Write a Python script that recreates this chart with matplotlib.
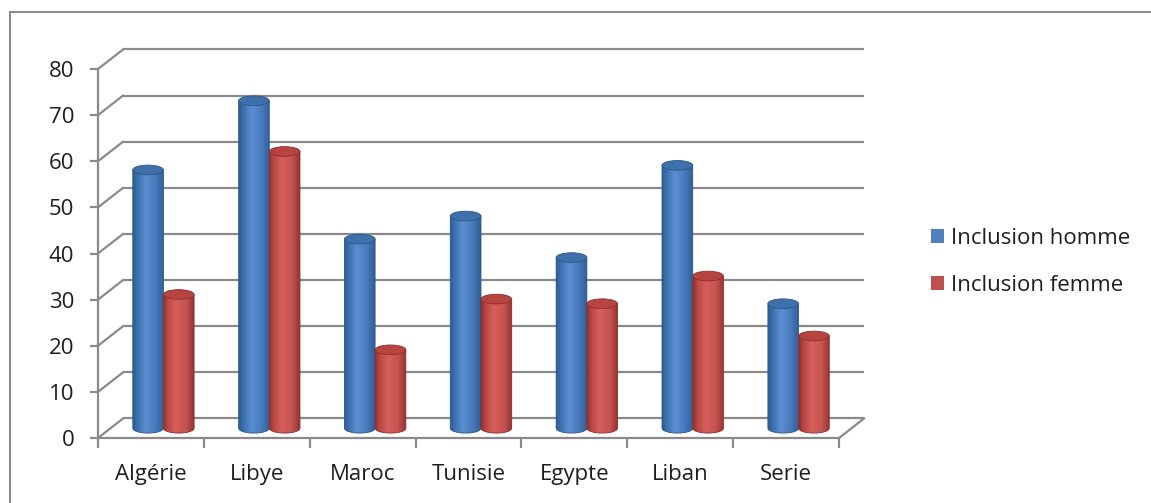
import numpy as np
import matplotlib.pyplot as plt
from matplotlib.patches import Ellipse, PathPatch, Rectangle, Patch
from matplotlib.path import Path
from matplotlib.colors import LinearSegmentedColormap

# Données
pays = ["Algérie", "Libye", "Maroc", "Tunisie", "Egypte", "Liban", "Serie"]
inclusion_homme = [56, 71, 41, 46, 37, 57, 27]
inclusion_femme = [29, 60, 17, 28, 27, 33, 20]
series_labels = ["Inclusion homme", "Inclusion femme"]
y_ticks = list(range(0, 81, 10))

plt.rcParams['font.family'] = ['Open Sans', 'DejaVu Sans']
TEXT = '#1f1f1f'
GRID = '#8a8a8a'
FS = 16

# profondeur de la perspective (en unités de données)
DX = 0.236
DY = 4.23
BAR_W = 0.29
ELL_H = 1.05

blue_cmap = LinearSegmentedColormap.from_list(
    'cyl_blue', [(0, '#2B5B92'), (0.15, '#3D70AE'), (0.42, '#5B8FD3'),
                 (0.75, '#4779BA'), (1, '#2F5F97')])
red_cmap = LinearSegmentedColormap.from_list(
    'cyl_red', [(0, '#8E302D'), (0.15, '#B94845'), (0.42, '#D65F5B'),
                (0.75, '#C45350'), (1, '#923431')])
styles = [
    dict(cmap=blue_cmap, top='#4070AC', edge='#2D5686', legend='#4F81BD'),
    dict(cmap=red_cmap, top='#B8443F', edge='#8A2F2C', legend='#C0504D'),
]

fig = plt.figure(figsize=(11.51, 5.03), dpi=100)
fig.patch.set_facecolor('white')
ax = fig.add_axes([98 / 1151, 65 / 503, 741 / 1151, 369 / 503])
ax.set_facecolor('none')

n = len(pays)

# mur du fond et paroi gauche
for v in y_ticks:
    ax.plot([DX, n + DX], [v + DY, v + DY], color=GRID, lw=1.6,
            clip_on=False, zorder=1, solid_capstyle='butt')
    ax.plot([0, DX], [v, v + DY], color=GRID, lw=1.6, clip_on=False, zorder=1)
ax.plot([n, n + DX], [0, DY], color=GRID, lw=1.6, clip_on=False, zorder=1)


def cylinder(xc, value, st, z):
    base = DY / 2
    top = value + DY / 2
    t = np.linspace(np.pi, 2 * np.pi, 40)
    bx = xc + BAR_W / 2 * np.cos(t)
    by = base + ELL_H * np.sin(t)
    verts = [(xc - BAR_W / 2, top)] + list(zip(bx, by)) + \
        [(xc + BAR_W / 2, top), (xc - BAR_W / 2, top)]
    body = PathPatch(Path(verts, closed=True), facecolor='none',
                     edgecolor=st['edge'], lw=0.6, zorder=z + 0.2, clip_on=False)
    ax.add_patch(body)
    grad = np.linspace(0, 1, 256).reshape(1, -1)
    im = ax.imshow(grad, cmap=st['cmap'], aspect='auto', origin='lower',
                   extent=[xc - BAR_W / 2, xc + BAR_W / 2, base - ELL_H, top],
                   zorder=z, interpolation='bicubic')
    im.set_clip_path(body)
    ax.add_patch(Ellipse((xc, top), BAR_W, 2 * ELL_H, facecolor=st['top'],
                         edgecolor=st['edge'], lw=0.6, zorder=z + 0.3,
                         clip_on=False))


for i in range(n):
    center = i + 0.5 + DX / 2
    for s, values in enumerate([inclusion_homme, inclusion_femme]):
        xc = center + (s - 0.5) * BAR_W
        cylinder(xc, values[i], styles[s], 3 + i * 2 + s)

ax.set_xlim(0, n)
ax.set_ylim(0, 80)

# axes avant
for side in ['top', 'right']:
    ax.spines[side].set_visible(False)
for side in ['left', 'bottom']:
    ax.spines[side].set_color(GRID)
    ax.spines[side].set_linewidth(1.6)
    ax.spines[side].set_zorder(2)

ax.set_yticks(y_ticks)
ax.tick_params(axis='y', length=6, width=1.6, color=GRID, pad=11,
               labelsize=FS, labelcolor=TEXT)
ax.set_xticks(range(n + 1))
ax.set_xticklabels([])
ax.set_xticks(np.arange(n) + 0.5, minor=True)
ax.set_xticklabels(pays, minor=True)
ax.tick_params(axis='x', which='major', length=7, width=1.6, color=GRID)
ax.tick_params(axis='x', which='minor', length=0, pad=19,
               labelsize=FS, labelcolor=TEXT)

handles = [Patch(facecolor=st['legend'], edgecolor='none') for st in styles]
fig.legend(handles, series_labels, loc='center left',
           bbox_to_anchor=(911 / 1151, 241 / 503), frameon=False,
           fontsize=FS, labelcolor=TEXT, handlelength=0.6, handleheight=0.6,
           handletextpad=0.3, labelspacing=1.16)

# cadre du graphique
fig.patches.append(Rectangle((10 / 1151, -0.1), 1.2, 1.1 - 12 / 503,
                             transform=fig.transFigure, fill=False,
                             edgecolor='#8c8c8c', lw=1.5))

fig.savefig('out.png', dpi=100)
